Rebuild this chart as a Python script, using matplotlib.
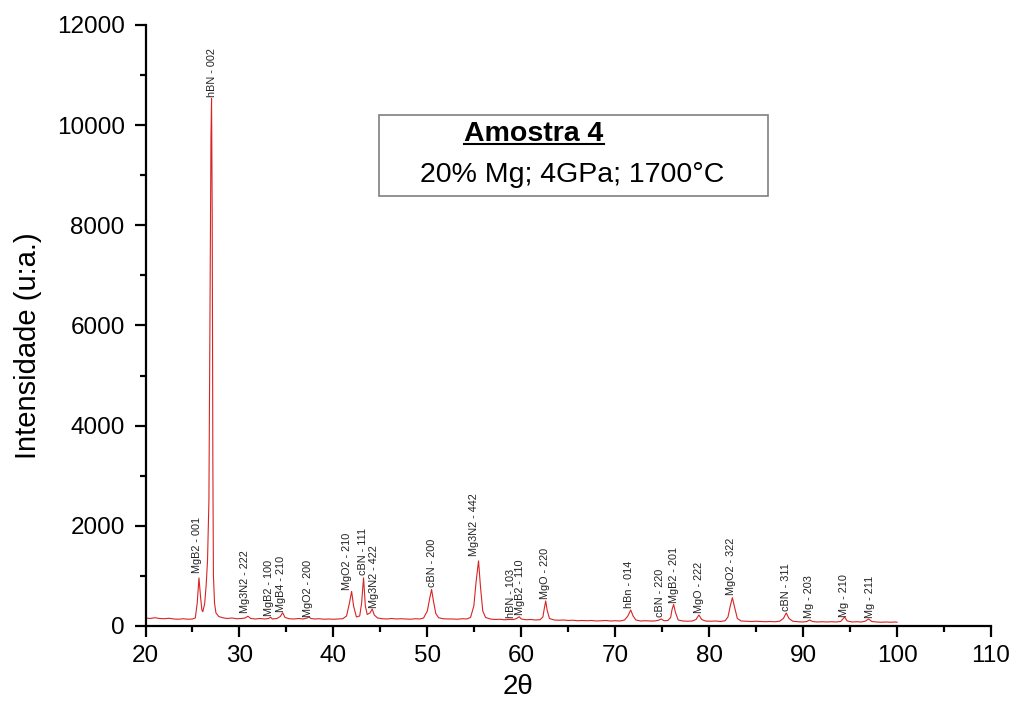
import numpy as np
import matplotlib
matplotlib.use("Agg")
import matplotlib.pyplot as plt
from matplotlib.ticker import MultipleLocator
from matplotlib.patches import Rectangle

plt.rcParams['font.family'] = ['Liberation Sans', 'DejaVu Sans']

# diffractogram, read point by point (2theta in degrees, counts)
two_theta = [
    20.0, 20.5, 21.0, 21.5, 22.0, 22.5, 23.0, 23.5, 24.0, 24.5, 25.0,
    25.3, 25.5, 25.69, 25.85, 26.0, 26.1, 26.3, 26.45, 26.6, 26.75, 26.88,
    26.97, 27.03, 27.10, 27.17, 27.23, 27.35, 27.5, 27.8, 28.2, 28.7, 29.2,
    29.7, 30.2, 30.6, 30.9, 31.2, 31.7, 32.2, 32.7, 33.1, 33.32, 33.5, 34.0,
    34.35, 34.6, 34.85, 35.3, 35.8, 36.3, 36.8, 37.2, 37.4, 37.6, 38.0, 38.5,
    39.0, 39.5, 40.0, 40.5, 41.0, 41.4, 41.7, 41.94, 42.15, 42.45, 42.8, 43.0,
    43.21, 43.4, 43.6, 43.9, 44.13, 44.35, 44.7, 45.2, 45.7, 46.2, 46.7, 47.2,
    47.7, 48.2, 48.7, 49.2, 49.6, 50.0, 50.25, 50.45, 50.65, 50.9, 51.2, 51.7,
    52.2, 52.7, 53.2, 53.7, 54.2, 54.6, 54.95, 55.2, 55.45, 55.65, 55.9, 56.2,
    56.7, 57.2, 57.7, 58.2, 58.7, 59.2, 59.5, 59.77, 60.0, 60.5, 61.0, 61.5,
    62.0, 62.3, 62.45, 62.6, 62.75, 63.0, 63.5, 64.0, 64.5, 65.0, 65.5, 66.0,
    66.5, 67.0, 67.5, 68.0, 68.5, 69.0, 69.5, 70.0, 70.5, 71.0, 71.35, 71.65,
    71.9, 72.2, 72.7, 73.2, 73.7, 74.2, 74.6, 74.9, 75.2, 75.6, 75.9, 76.05,
    76.22, 76.4, 76.7, 77.2, 77.7, 78.2, 78.6, 78.91, 79.2, 79.6, 80.2, 80.7,
    81.2, 81.7, 82.0, 82.25, 82.47, 82.7, 83.0, 83.4, 84.0, 84.5, 85.0, 85.5,
    86.0, 86.5, 87.0, 87.5, 87.9, 88.21, 88.5, 88.9, 89.5, 90.0, 90.4, 90.69,
    91.0, 91.5, 92.0, 92.5, 93.0, 93.5, 94.0, 94.41, 94.7, 95.2, 95.7, 96.2,
    96.6, 96.97, 97.3, 97.8, 98.3, 98.8, 99.3, 99.8, 100.0,
]
intensity = [
    160, 150, 165, 150, 145, 155, 140, 135, 145, 135, 140,
    160, 450, 960, 600, 320, 285, 450, 800, 1300, 2500, 6600,
    9800, 10530, 8200, 3200, 1000, 450, 260, 190, 165, 150, 160,
    145, 150, 160, 195, 150, 140, 150, 140, 150, 175, 140, 150,
    190, 265, 170, 145, 140, 150, 140, 160, 180, 150, 140, 145,
    135, 140, 135, 140, 145, 200, 450, 690, 400, 180, 200, 450,
    960, 400, 230, 260, 340, 220, 160, 145, 140, 150, 140, 145,
    140, 135, 145, 140, 160, 300, 550, 730, 500, 250, 165, 145,
    140, 140, 135, 145, 140, 170, 400, 900, 1300, 800, 300, 170,
    140, 130, 135, 125, 130, 130, 150, 185, 140, 125, 130, 120,
    125, 180, 350, 500, 320, 150, 120, 115, 120, 110, 115, 105,
    110, 105, 110, 100, 105, 110, 100, 105, 100, 120, 200, 320,
    200, 120, 100, 105, 100, 100, 115, 140, 105, 110, 170, 330,
    430, 280, 120, 100, 95, 100, 130, 220, 130, 100, 95, 100,
    90, 105, 180, 400, 565, 380, 150, 100, 95, 90, 95, 90,
    85, 90, 85, 95, 150, 260, 150, 95, 85, 80, 90, 120,
    90, 80, 85, 80, 85, 80, 90, 180, 100, 80, 85, 80,
    95, 140, 90, 80, 75, 80, 75, 80, 75,
]

# phase / reflection labels and where they sit
peak_names = [
    "MgB2 - 001", "hBN - 002", "Mg3N2 - 222", "MgB2 - 100", "MgB4 - 210",
    "MgO2 - 200", "MgO2 - 210", "cBN - 111", "Mg3N2 - 422", "cBN - 200",
    "Mg3N2 - 442", "hBN - 103", "MgB2 - 110", "MgO - 220", "hBn - 014",
    "cBN - 220", "MgB2 - 201", "MgO - 222", "MgO2 - 322", "cBN - 311",
    "Mg - 203", "Mg - 210", "Mg - 211",
]
label_x = [
    25.45, 27.04, 30.59, 33.17, 34.41, 37.32, 41.40, 43.11, 44.31, 50.45,
    54.95, 58.88, 59.91, 62.50, 71.47, 74.81, 76.22, 78.91, 82.36, 88.21,
    90.62, 94.31, 97.07,
]
label_y = [
    1055, 10560, 260, 200, 285, 185, 715, 1015, 350, 770,
    1395, 160, 220, 530, 350, 175, 465, 250, 615, 305,
    150, 175, 150,
]

fig = plt.figure(figsize=(10.14, 7.04), dpi=100)
ax = fig.add_axes([0.1435, 0.1108, 0.8338, 0.8537])

ax.plot(two_theta, intensity, color="#d82424", lw=0.8)

for name, lx, ly in zip(peak_names, label_x, label_y):
    ax.text(lx, ly, name, rotation=90, ha="center", va="bottom",
            fontsize=7.8, color="#222222")

ax.set_xlim(20, 110)
ax.set_ylim(0, 12000)
ax.xaxis.set_major_locator(MultipleLocator(10))
ax.xaxis.set_minor_locator(MultipleLocator(5))
ax.yaxis.set_major_locator(MultipleLocator(2000))
ax.yaxis.set_minor_locator(MultipleLocator(1000))

for side in ("top", "right"):
    ax.spines[side].set_visible(False)
for side in ("left", "bottom"):
    ax.spines[side].set_linewidth(1.6)

ax.tick_params(which="major", direction="out", length=8, width=1.6,
               labelsize=17.5)
ax.tick_params(which="minor", direction="out", length=4.5, width=1.6)
ax.tick_params(axis="x", which="major", pad=6)
ax.tick_params(axis="y", which="major", pad=7)

ax.set_xlabel("2θ", fontsize=20)
ax.set_ylabel("Intensidade (u:a.)", fontsize=21)
ax.xaxis.set_label_coords(0.44, -0.08)
ax.yaxis.set_label_coords(-0.122, 0.467)

# sample info box
ax.add_patch(Rectangle((0.276, 0.7155), 0.46, 0.1345, transform=ax.transAxes,
                       fill=False, edgecolor="#7f7f7f", lw=1.2))
title = ax.text(0.4595, 0.807, "Amostra 4", transform=ax.transAxes,
                ha="center", va="baseline", fontsize=20.5, fontweight="bold")
ax.text(0.505, 0.738, "20% Mg; 4GPa; 1700°C", transform=ax.transAxes,
        ha="center", va="baseline", fontsize=20.5)

# underline under the sample name
fig.canvas.draw()
bb = title.get_window_extent().transformed(ax.transAxes.inverted())
ax.plot([bb.x0, bb.x1], [0.8015, 0.8015], transform=ax.transAxes,
        color="black", lw=1.5)

fig.savefig("out.png", dpi=100)
